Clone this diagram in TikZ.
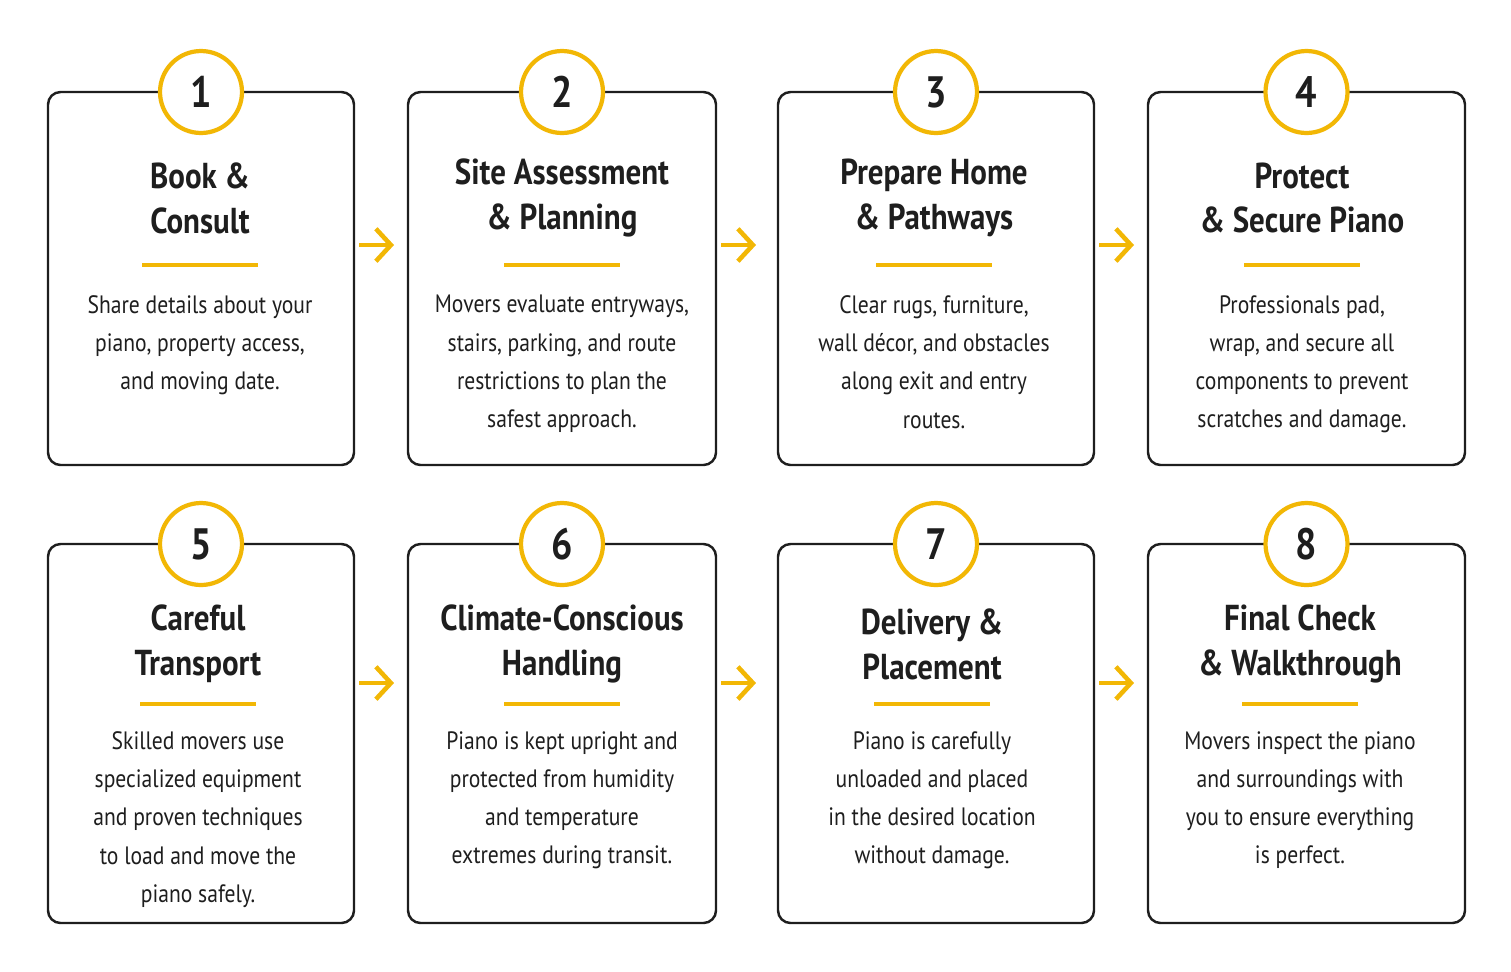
\documentclass[tikz,border=0pt]{standalone}
\usepackage{fontspec}
\setmainfont{PT Sans}[FakeStretch=0.86]
\usetikzlibrary{calc, positioning, arrows.meta}
\definecolor{gold}{HTML}{F2B705}
\definecolor{ink}{HTML}{1E1E1E}

\tikzset{
	card/.style = {draw=ink, line width=1.4pt, rounded corners=2.5mm, fill=white},
	num/.style = {circle, draw=gold, line width=2.4pt, fill=white, minimum size=1.64cm,
		inner sep=0pt, font=\fontsize{25}{25}\selectfont\bfseries, text=ink},
	head/.style = {align=center, font=\fontsize{20.5}{25.5}\selectfont\bfseries, text=ink},
	body/.style = {align=center, font=\fontsize{14.3}{21.8}\selectfont, text=ink},
	go/.style = {draw=gold, line width=2.6pt, -{Straight Barb[length=3mm,width=6.5mm]}}
}

\begin{document}
\begin{tikzpicture}[x=0.02cm, y=-0.02cm]

	\useasboundingbox (0,0) rectangle (1511,971);

	% rows: top / bottom / title y / rule y / text y / arrow y
	\foreach \row/\t/\b/\hy/\ry/\ty/\ay in {1/92/465/198/265/289/245, 2/544/923/644/704/725/683} {
		% cards: number / left / right / centre of text / title / text
		\foreach \n/\l/\r/\c/\head/\txt in {
			1/48/354/200/{Book \&\\Consult}/{Share details about your\\piano, property access,\\and moving date.},
			2/408/716/562/{Site Assessment\\\& Planning}/{Movers evaluate entryways,\\stairs, parking, and route\\restrictions to plan the\\safest approach.},
			3/778/1094/934/{Prepare Home\\\& Pathways}/{Clear rugs, furniture,\\wall décor, and obstacles\\along exit and entry\\routes.},
			4/1148/1465/1302/{Protect\\\& Secure Piano}/{Professionals pad,\\wrap, and secure all\\components to prevent\\scratches and damage.},
			5/48/354/198/{Careful\\Transport}/{Skilled movers use\\specialized equipment\\and proven techniques\\to load and move the\\piano safely.},
			6/408/716/562/{Climate-Conscious\\Handling}/{Piano is kept upright and\\protected from humidity\\and temperature\\extremes during transit.},
			7/778/1094/932/{Delivery \&\\Placement}/{Piano is carefully\\unloaded and placed\\in the desired location\\without damage.},
			8/1148/1465/1300/{Final Check\\\& Walkthrough}/{Movers inspect the piano\\and surroundings with\\you to ensure everything\\is perfect.}}
		{
			\pgfmathtruncatemacro\inrow{ceil(\n/4)}
			\ifnum\inrow=\row
				\draw[card] (\l,\t) rectangle (\r,\b);
				\coordinate (in\n) at (\l,\ay);
				\coordinate (out\n) at (\r,\ay);
				\node[num] (num\n) at ({(\l+\r)/2}, \t) {\n};
				\node[head] (head\n) at (\c, \hy) {\head};
				\draw[gold, line width=2pt] (\c-58, \ry) -- (\c+58, \ry);
				\node[body, anchor=north] (txt\n) at (\c, \ty) {\txt};
				\ifnum\n=4 \else \ifnum\n=8 \else
					\pgfmathtruncatemacro\nx{\n+1}
					\coordinate (next\n) at ({\r+40}, \ay);
					\draw[go] (\r+5, \ay) -- (next\n);
				\fi\fi
			\fi
		}
	}

\end{tikzpicture}
\end{document}
